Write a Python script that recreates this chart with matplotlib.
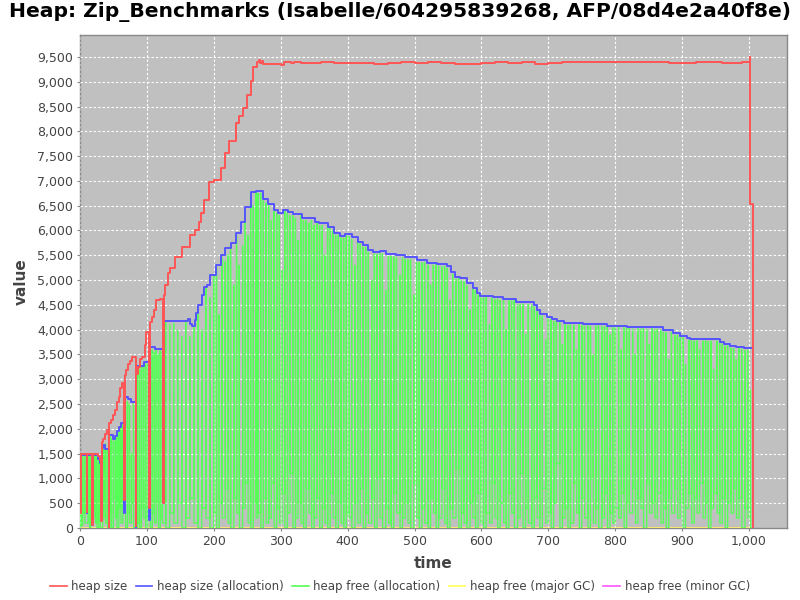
import matplotlib
matplotlib.use("Agg")
import matplotlib.pyplot as plt
from matplotlib.ticker import FuncFormatter, MultipleLocator

# ---------------- data ----------------
red_t = [0, 1, 10, 11, 18.5, 19.5, 27, 30, 32, 33, 35, 37, 40, 43, 44, 47, 49, 52, 55, 58, 60, 63,
         66, 67, 69, 72, 75, 78, 83, 84, 87, 90, 93, 97, 99, 101, 103, 104, 107, 110, 113, 120,
         124, 125, 127, 131, 134.5, 142, 152, 164, 172, 178, 181, 186, 193, 200, 210, 216, 222,
         233, 238, 244, 250, 255, 259, 265, 267, 269, 272, 274, 290, 300, 305, 315, 320, 330,
         350, 360, 380, 400, 420, 440, 460, 480, 500, 520, 540, 560, 580, 600, 620, 640, 660,
         680, 700, 720, 740, 760, 780, 800, 820, 840, 860, 880, 900, 920, 940, 960, 975, 990,
         1001, 1002, 1006.5]
red_v = [300, 1500, 330, 1500, 60, 1500, 1460, 1370, 150, 1740, 1800, 1900, 1980, 0, 2110, 2180,
         2280, 2380, 2550, 2650, 2820, 2930, 560, 3090, 3190, 3300, 3360, 3450, 50, 3100, 3250,
         3400, 3450, 3700, 3950, 3960, 400, 4150, 4250, 4400, 4600, 4610, 500, 4700, 4900, 5150,
         5240, 5460, 5660, 5910, 6010, 6180, 6360, 6615, 6985, 7020, 7260, 7560, 7810, 8175,
         8310, 8465, 8730, 9020, 9290, 9390, 9440, 9380, 9420, 9360, 9350, 9340, 9390, 9380,
         9400, 9370, 9380, 9390, 9370, 9380, 9370, 9350, 9380, 9390, 9380, 9390, 9370, 9350,
         9360, 9380, 9390, 9380, 9390, 9360, 9370, 9390, 9400, 9400, 9400, 9400, 9400, 9390,
         9390, 9380, 9380, 9390, 9400, 9380, 9370, 9390, 9490, 6530, 0]

blue_t = [0, 10, 11, 18.5, 19.5, 27, 30, 32, 33, 35, 38, 43, 44, 49, 53, 56, 59, 62, 66, 67, 72,
          76, 83, 84, 96, 103, 104, 112, 124, 126, 162, 165, 167, 172, 173, 176, 183, 186, 190,
          194, 203, 210, 216, 225, 233, 240, 247, 255, 263, 274, 281, 290, 296, 303, 311, 318,
          332, 351, 357, 371, 380, 389, 396, 406, 416, 423, 431, 438, 448, 458, 473, 486, 503,
          518, 533, 548, 555, 561, 568, 578, 588, 593, 598, 617, 632, 652, 678, 683, 688, 698,
          705, 713, 723, 727, 752, 787, 817, 857, 872, 887, 897, 907, 912, 942, 957, 962, 972,
          980, 992, 1006.5]
blue_v = [1480, 300, 1480, 60, 1480, 1400, 1320, 160, 1620, 1680, 1600, 0, 1875, 1785, 1850, 1950,
          2030, 2125, 300, 2650, 2600, 2550, 0, 3260, 3355, 160, 3650, 3620, 500, 4180, 4220,
          4120, 4075, 4200, 4335, 4495, 4700, 4865, 4900, 5100, 5300, 5500, 5650, 5750, 5950,
          6180, 6480, 6780, 6800, 6630, 6535, 6415, 6360, 6415, 6380, 6327, 6245, 6180, 6147,
          6077, 5950, 5890, 5923, 5863, 5775, 5708, 5607, 5573, 5580, 5526, 5500, 5460, 5405,
          5350, 5325, 5285, 5160, 5070, 5036, 4935, 4835, 4735, 4680, 4653, 4626, 4552, 4500,
          4400, 4316, 4250, 4210, 4175, 4140, 4128, 4108, 4080, 4060, 4045, 3993, 3926, 3880,
          3825, 3815, 3810, 3758, 3711, 3671, 3660, 3623, 0]

# heap free (allocation): cycle times, peak values and trough values
green_t = [1, 4, 7, 12, 14, 16, 21, 23, 25, 28,
           30, 34, 36, 38, 41,
           45, 47, 50, 53, 55, 58, 61, 64,
           68, 71, 74, 77, 80,
           86, 89, 92, 95, 98, 101,
           105, 108, 111, 114, 117, 120, 123,
           128, 134, 140, 146, 152, 158, 164, 170, 176, 182, 188, 194, 200,
           204, 208, 212, 217, 221, 225, 230, 234, 238, 243, 247, 251, 255, 259, 263,
           266, 270, 274, 278, 282, 286, 290, 294, 298, 302, 306, 310, 314, 318, 322, 326, 330,
           334, 338, 342, 346, 350, 354, 358, 362, 366, 370, 374, 378, 382, 386, 390, 394, 398,
           402, 406, 411, 415, 419, 423, 427, 431, 436, 440, 444, 448, 452, 457, 461, 465, 469,
           473, 478, 482, 486, 490, 494, 499, 503, 507, 511, 515, 520, 524, 528, 532, 536, 541,
           545, 549, 553, 557, 562, 566, 570, 574, 578, 583, 587, 591, 595, 599,
           603, 607, 612, 616, 620, 624, 628, 633, 637, 641, 645, 649, 654, 658, 662, 666, 670,
           675, 679, 683, 687, 691, 696, 700, 704, 708, 712, 717, 721, 725, 729, 733, 738, 742,
           746, 750, 754, 759, 763, 767, 771, 775, 780, 784, 788, 792, 796,
           800, 805, 809, 813, 817, 821, 826, 830, 834, 838, 842, 847, 851, 855, 859, 863, 868,
           872, 876, 880, 884, 889, 893, 897, 901, 905, 910, 914, 918, 922, 926, 931, 935, 939,
           943, 947, 952, 956, 960, 964, 968, 973, 977, 981, 985, 989, 994, 998, 1002]
green_peak = [1450, 1440, 1450, 1450, 1440, 1450, 1450, 1440, 1450, 1400,
              1350, 1600, 1650, 1700, 1600,
              1850, 1800, 1750, 1850, 1950, 2000, 2050, 2100,
              2600, 2550, 2500, 1500, 2500,
              3250, 3200, 3250, 3300, 3300, 3350,
              3600, 3600, 3550, 3600, 3500, 3600, 3550,
              4160, 4100, 4130, 3990, 3860, 4150, 3860, 4060, 4460, 4000, 4850, 4650, 5080,
              5270, 4300, 5450, 5380, 5510, 5700, 4900, 5900, 5300, 5690, 6450, 5900, 6750, 6500,
              6780,
              6750, 6750, 6600, 6550, 6500, 6200, 6400, 6350, 6300, 5200, 6400, 6350, 6300, 6300,
              6250, 5800, 6300, 6200, 6200, 6150, 6200, 6100, 6150, 6100, 6100, 5500, 6100, 6050,
              6000, 5900, 5900, 5850, 5850, 5900,
              5880, 5820, 5300, 5820, 5730, 5670, 5660, 5560, 5000, 5530, 5520, 5540, 5530, 4800,
              5480, 5480, 5470, 5450, 5100, 5450, 5420, 5410, 5420, 4700, 5360, 5360, 5350, 5360,
              5300, 4900, 5300, 5310, 5280, 5270, 5280, 5240, 4600, 5120, 5020, 5030, 4990, 4980,
              4890, 4400, 4890, 4790, 4690, 4640,
              4640, 4650, 4100, 4640, 4610, 4620, 4600, 4590, 4000, 4590, 4580, 4600, 4500, 4510,
              4520, 3900, 4510, 4500, 4460, 4370, 4360, 4270, 3800, 4220, 4210, 4170, 4180, 4140,
              3700, 4100, 4090, 4100, 4090, 3600, 4100, 4090, 4070, 4080, 4060, 3500, 4070, 4080,
              4060, 4070, 4050, 3900, 4040,
              4040, 4050, 3600, 4040, 4020, 4030, 4010, 3500, 4020, 4010, 4020, 4000, 3700, 4020,
              4000, 4010, 3990, 3950, 3940, 3400, 3950, 3880, 3890, 3840, 3840, 3300, 3790, 3780,
              3770, 3780, 3600, 3770, 3780, 3760, 3770, 3200, 3770, 3760, 3710, 3670, 3680, 3630,
              3620, 3400, 3620, 3610, 3580, 3590, 2780]
green_low = [50, 300, 100, 600, 0, 200, 400, 100, 0, 300,
             0, 200, 500, 100, 0,
             300, 0, 600, 200, 0, 400, 100, 700,
             0, 300, 100, 500, 0,
             100, 0, 400, 200, 0, 300,
             0, 300, 100, 500, 0, 200, 100,
             0, 300, 100, 500, 0, 200, 600, 100, 0, 400, 200, 0, 300,
             0, 500, 200, 800, 100, 0, 600, 300, 0, 400, 900, 100, 0, 500, 200,
             300, 0, 600, 100, 200, 900, 0, 400, 100, 700, 0, 300, 1100, 0, 200, 500, 100, 0,
             800, 300, 0, 200, 600, 0, 400, 100, 0, 700, 200, 0, 500, 100, 0, 300,
             200, 0, 500, 100, 800, 0, 300, 100, 600, 0, 1000, 200, 0, 400, 100, 0, 700, 300,
             0, 200, 500, 100, 0, 900, 200, 0, 400, 100, 0, 600, 300, 0, 200, 800, 100, 0, 400,
             200, 1200, 0, 300, 100, 0, 500, 200, 0, 700, 100,
             0, 300, 100, 900, 200, 0, 500, 100, 0, 700, 300, 0, 200, 1100, 0, 400, 100, 0, 600,
             200, 0, 800, 100, 300, 0, 500, 1300, 0, 200, 400, 0, 100, 900, 300, 0, 600, 200, 0,
             1000, 100, 400, 0, 200, 700, 0, 300, 100,
             400, 200, 700, 0, 500, 300, 800, 100, 600, 400, 0, 900, 300, 500, 200, 700, 100,
             400, 0, 600, 300, 800, 200, 500, 0, 400, 700, 100, 600, 300, 900, 200, 500, 0, 400,
             700, 300, 100, 600, 0, 500, 300, 800, 200, 600, 0, 400, 200, 0]

zero_t = [0, 1006.5]
zero_v = [0, 0]

x_ticks = [0, 100, 200, 300, 400, 500, 600, 700, 800, 900, 1000]
legend_labels = ["heap size", "heap size (allocation)", "heap free (allocation)",
                 "heap free (major GC)", "heap free (minor GC)"]
title = "Heap: Zip_Benchmarks (Isabelle/604295839268, AFP/08d4e2a40f8e)"

# ---------------- build green polyline (vertical spikes) ----------------
gx, gy = [0], [0]
prev = 0
for t, p, l in zip(green_t, green_peak, green_low):
    gx += [t, t, t + 0.3]
    gy += [prev, p, l]
    prev = l
gx += [1006.5]
gy += [0]

# ---------------- plot ----------------
plt.rcParams['font.family'] = ['DejaVu Sans']
plt.rcParams['path.simplify'] = False
fig = plt.figure(figsize=(8, 6), dpi=100)
ax = fig.add_axes([0.1, 0.12, 0.884, 0.8217])
ax.set_facecolor('#c0c0c0')

c_red, c_blue, c_green, c_yel, c_mag = '#ff5555', '#5555ff', '#55ff55', '#ffff55', '#ff55ff'

ax.plot(zero_t, zero_v, color=c_mag, lw=1.2, zorder=2)
ax.plot(zero_t, zero_v, color=c_yel, lw=1.2, zorder=3)
ax.plot(gx, gy, color=c_green, lw=0.95, zorder=4)
ax.plot(blue_t, blue_v, color=c_blue, lw=1.4, drawstyle='steps-post', zorder=6)
ax.plot(red_t, red_v, color=c_red, lw=1.4, drawstyle='steps-post', zorder=7)

ax.set_xlim(0, 1057)
ax.set_ylim(0, 9943)
ax.set_xticks(x_ticks)
ax.yaxis.set_major_locator(MultipleLocator(500))
fmt = FuncFormatter(lambda v, p: f"{int(round(v)):,}")
ax.xaxis.set_major_formatter(fmt)
ax.yaxis.set_major_formatter(fmt)
ax.tick_params(axis='both', labelsize=9, colors='#444444', length=2, width=0.8, pad=3)
ax.tick_params(axis='both', color='#888888')
ax.grid(False)
for yv in range(500, 10000, 500):
    ax.axhline(yv, color='white', linestyle=(0, (2, 2)), linewidth=0.8, alpha=0.4, zorder=5)
    ax.axhline(yv, color='white', linestyle=(0, (2, 2)), linewidth=0.8, zorder=1)
for xv in x_ticks:
    ax.axvline(xv, color='white', linestyle=(0, (2, 2)), linewidth=0.8, alpha=0.4, zorder=5)
    ax.axvline(xv, color='white', linestyle=(0, (2, 2)), linewidth=0.8, zorder=1)
for s in ax.spines.values():
    s.set_color('#888888')
    s.set_linewidth(1.0)

ax.set_xlabel('time', fontsize=11, fontweight='bold', color='#444444', labelpad=6)
ax.set_ylabel('value', fontsize=11, fontweight='bold', color='#444444', labelpad=6)
fig.suptitle(title, x=0.5, y=0.997, fontsize=14.6, fontweight='bold', va='top')

handles = [plt.Line2D([], [], color=c, lw=1.2) for c in (c_red, c_blue, c_green, c_yel, c_mag)]
fig.legend(handles, legend_labels, loc='center', bbox_to_anchor=(0.5, 0.022), ncol=5,
           frameon=False, fontsize=8.5, handlelength=1.4, handletextpad=0.4, columnspacing=0.7,
           labelcolor='#444444')

fig.savefig('out.png', dpi=100, facecolor='white')
